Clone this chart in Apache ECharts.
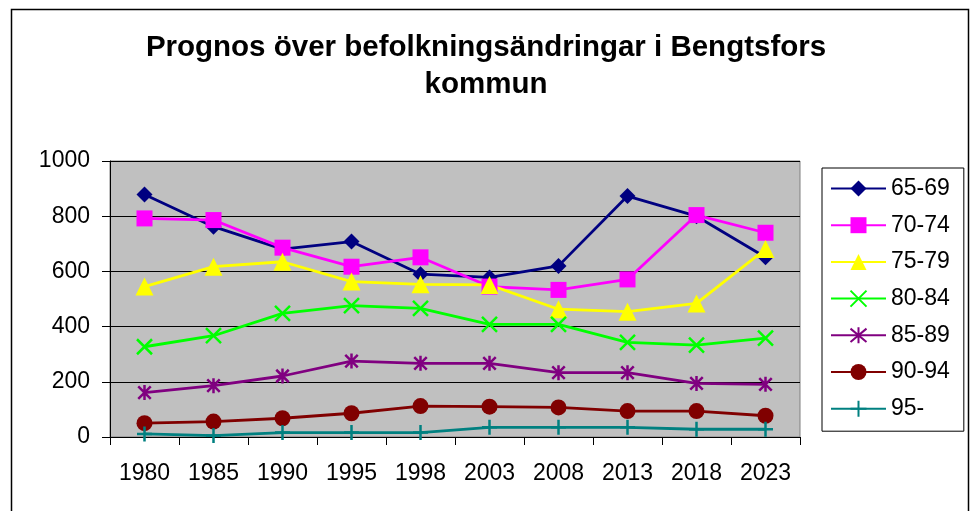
<!DOCTYPE html>
<html>
<head>
<meta charset="utf-8">
<script src="https://cdn.jsdelivr.net/npm/echarts@6/dist/echarts.min.js"></script>
<style>html,body{margin:0;padding:0;background:#fff}#c{width:972px;height:511px}</style>
</head>
<body>
<div id="c"></div>
<script>
const titleText = 'Prognos över befolkningsändringar i Bengtsfors\nkommun';
const years = ['1980','1985','1990','1995','1998','2003','2008','2013','2018','2023'];
const yTicks = [0, 200, 400, 600, 800, 1000];
const seriesNames = ['65-69','70-74','75-79','80-84','85-89','90-94','95-'];
const v6569 = [879, 762, 681, 708, 590, 578, 620, 873, 800, 651];
const v7074 = [792, 786, 686, 617, 651, 545, 533, 571, 804, 740];
const v7579 = [545, 617, 635, 563, 553, 551, 463, 454, 484, 681];
const v8084 = [327, 367, 448, 476, 466, 408, 408, 343, 333, 358];
const v8589 = [161, 186, 221, 275, 267, 267, 233, 233, 194, 191];
const v9094 = [50, 56, 68, 86, 112, 110, 107, 94, 94, 77];
const v95 = [11, 5, 16, 16, 16, 35, 35, 35, 28, 28];

const values = [v6569, v7074, v7579, v8084, v8589, v9094, v95];
const colors = ['#000080','#FF00FF','#FFFF00','#00FF00','#800080','#800000','#008080'];
const symbols = ['diamond','rect','triangle',
  'path://M0,0L10,10M10,0L0,10',
  'path://M0,0L10,10M10,0L0,10M5,-1L5,11',
  'circle',
  'path://M0,5L10,5M5,0L5,10'];
const sizes = [16, 16, 18, 15, 15, 16, 15];
const stroked = [false, false, false, true, true, false, true];

const font = 'Arial, "Liberation Sans", sans-serif';
const chart = echarts.init(document.getElementById('c'));
chart.setOption({
  animation: false,
  backgroundColor: '#fff',
  title: {
    text: titleText,
    left: 'center',
    top: 24,
    textStyle: {fontFamily: font, fontSize: 29.5, fontWeight: 'bold', color: '#000', lineHeight: 37}
  },
  graphic: [{
    type: 'rect', silent: true, z: -1,
    shape: {x: 11.5, y: 9.5, width: 957, height: 600},
    style: {fill: 'none', stroke: '#000', lineWidth: 1.5}
  }],
  legend: {
    orient: 'vertical',
    left: 822, top: 168,
    padding: [9, 14, 11, 8],
    itemWidth: 55, itemHeight: 20, itemGap: 13.7,
    borderColor: '#000', borderWidth: 1,
    backgroundColor: '#fff',
    textStyle: {fontFamily: font, fontSize: 23, color: '#000'},
    data: seriesNames
  },
  grid: {
    left: 110, top: 161, right: 172, bottom: 74,
    show: true, backgroundColor: '#C0C0C0', borderColor: '#808080', borderWidth: 1
  },
  xAxis: {
    type: 'category', data: years, boundaryGap: true,
    axisLine: {lineStyle: {color: '#000', width: 1}},
    axisTick: {show: true, length: 8, lineStyle: {color: '#000'}},
    axisLabel: {fontFamily: font, fontSize: 23, color: '#000', margin: 25}
  },
  yAxis: {
    type: 'value', min: yTicks[0], max: yTicks[yTicks.length - 1], interval: 200,
    axisLine: {show: true, lineStyle: {color: '#000', width: 1}},
    axisTick: {show: true, length: 8, lineStyle: {color: '#000'}},
    axisLabel: {fontFamily: font, fontSize: 23, color: '#000', margin: 20, formatter: v => String(v)},
    splitLine: {show: true, lineStyle: {color: '#000', width: 1}}
  },
  series: seriesNames.map((n, i) => ({
    name: n, type: 'line', data: values[i],
    symbol: symbols[i], symbolSize: sizes[i], symbolKeepAspect: true,
    showAllSymbol: true,
    lineStyle: {color: colors[i], width: 2.8},
    itemStyle: stroked[i]
      ? {color: colors[i], borderColor: colors[i], borderWidth: 2.5}
      : {color: colors[i], borderWidth: 0},
    emphasis: {disabled: true}
  }))
});
</script>
</body>
</html>
